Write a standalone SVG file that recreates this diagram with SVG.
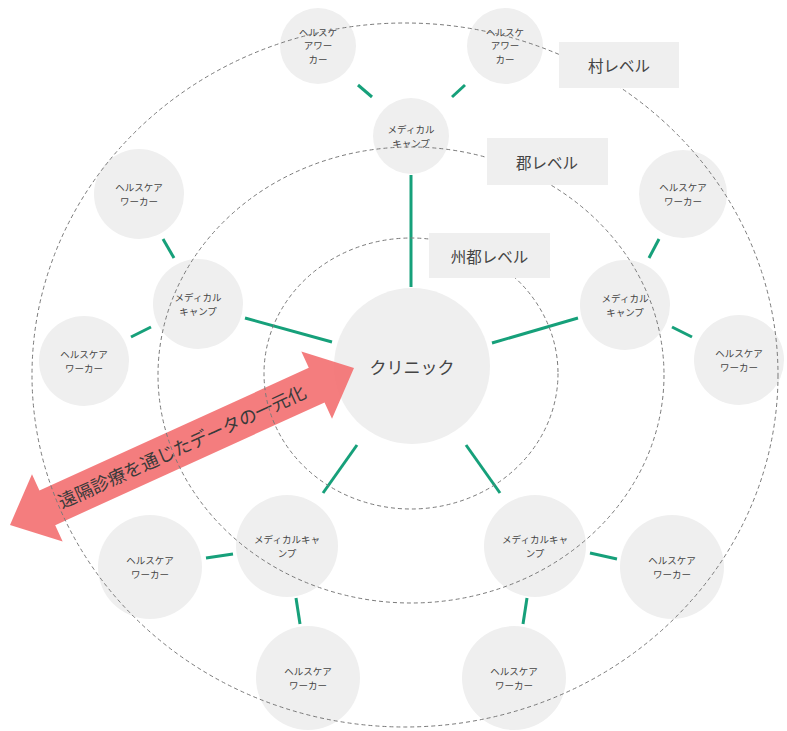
<svg xmlns="http://www.w3.org/2000/svg" width="787" height="731" viewBox="0 0 787 731">
<style>
.n{fill:#efefef}
.t{font-family:"Noto Sans CJK JP","Noto Sans",sans-serif;font-size:9.5px;fill:#444;text-anchor:middle;dominant-baseline:central}
.c{stroke:#16a07a;stroke-width:3;fill:none}
.e{fill:none;stroke:#7a7a7a;stroke-width:1;stroke-dasharray:4 3}
.lb{fill:#efefef}
.lt{font-family:"Noto Sans CJK JP","Noto Sans",sans-serif;font-size:15.5px;fill:#444;text-anchor:middle;dominant-baseline:central}
</style>
<rect width="787" height="731" fill="#fff"/>
<g id="connectors">
<line class="c" x1="411" y1="175" x2="411" y2="287"/>
<line class="c" x1="578" y1="318" x2="492" y2="343"/>
<line class="c" x1="245" y1="318" x2="332" y2="342"/>
<line class="c" x1="357" y1="445" x2="323" y2="493"/>
<line class="c" x1="466" y1="445" x2="500" y2="493"/>
<line class="c" x1="358" y1="85" x2="372" y2="97"/>
<line class="c" x1="452" y1="97" x2="465" y2="85"/>
<line class="c" x1="649" y1="258" x2="659" y2="239"/>
<line class="c" x1="672" y1="327" x2="692" y2="337"/>
<line class="c" x1="163" y1="239" x2="174" y2="258"/>
<line class="c" x1="131" y1="337" x2="151" y2="327"/>
<line class="c" x1="206" y1="558" x2="233" y2="554"/>
<line class="c" x1="590" y1="553" x2="617" y2="559"/>
<line class="c" x1="296" y1="598" x2="300" y2="624"/>
<line class="c" x1="527" y1="598" x2="523" y2="624"/>
</g>
<g id="clinic"><circle class="n" cx="412" cy="366" r="78"/><text class="t" x="412" y="366" style="font-size:17px">クリニック</text></g>
<g id="camp-top"><circle class="n" cx="411" cy="136" r="38"/><text class="t" x="411" y="129">メディカル<tspan x="411" dy="13.8">キャンプ</tspan></text></g>
<g id="camp-right"><circle class="n" cx="625" cy="305" r="45"/><text class="t" x="625" y="298">メディカル<tspan x="625" dy="13.8">キャンプ</tspan></text></g>
<g id="camp-left"><circle class="n" cx="198" cy="304" r="45"/><text class="t" x="198" y="297">メディカル<tspan x="198" dy="13.8">キャンプ</tspan></text></g>
<g id="camp-bl"><circle class="n" cx="287" cy="546" r="51"/><text class="t" x="287" y="539">メディカルキャ<tspan x="287" dy="13.8">ンプ</tspan></text></g>
<g id="camp-br"><circle class="n" cx="535" cy="546" r="51"/><text class="t" x="535" y="539">メディカルキャ<tspan x="535" dy="13.8">ンプ</tspan></text></g>
<g id="hw-top-left"><circle class="n" cx="318" cy="46" r="38"/><text class="t" x="318" y="31.5">ヘルスケ<tspan x="318" dy="13.8">アワー</tspan><tspan x="318" dy="13.8">カー</tspan></text></g>
<g id="hw-top-right"><circle class="n" cx="505" cy="46" r="38"/><text class="t" x="505" y="31.5">ヘルスケ<tspan x="505" dy="13.8">アワー</tspan><tspan x="505" dy="13.8">カー</tspan></text></g>
<g id="hw-right-top"><circle class="n" cx="683" cy="194" r="44"/><text class="t" x="683" y="187">ヘルスケア<tspan x="683" dy="13.8">ワーカー</tspan></text></g>
<g id="hw-right"><circle class="n" cx="739" cy="360" r="45"/><text class="t" x="739" y="353">ヘルスケア<tspan x="739" dy="13.8">ワーカー</tspan></text></g>
<g id="hw-left-top"><circle class="n" cx="139" cy="194" r="45"/><text class="t" x="139" y="187">ヘルスケア<tspan x="139" dy="13.8">ワーカー</tspan></text></g>
<g id="hw-left"><circle class="n" cx="84" cy="361" r="45"/><text class="t" x="84" y="354">ヘルスケア<tspan x="84" dy="13.8">ワーカー</tspan></text></g>
<g id="hw-bl1"><circle class="n" cx="150" cy="567" r="52"/><text class="t" x="150" y="560">ヘルスケア<tspan x="150" dy="13.8">ワーカー</tspan></text></g>
<g id="hw-br1"><circle class="n" cx="672" cy="567" r="52"/><text class="t" x="672" y="560">ヘルスケア<tspan x="672" dy="13.8">ワーカー</tspan></text></g>
<g id="hw-bl2"><circle class="n" cx="308" cy="678" r="52"/><text class="t" x="308" y="671">ヘルスケア<tspan x="308" dy="13.8">ワーカー</tspan></text></g>
<g id="hw-br2"><circle class="n" cx="514" cy="678" r="52"/><text class="t" x="514" y="671">ヘルスケア<tspan x="514" dy="13.8">ワーカー</tspan></text></g>
<g id="arrow" transform="translate(182 446.5) rotate(-24.5)">
<path d="M-189 0 L-148 -37 L-148 -19 L148 -19 L148 -37 L189 0 L148 37 L148 19 L-148 19 L-148 37 Z" fill="#f36f70" opacity="0.9"/>
<text x="0" y="-1" style="font-family:'Noto Sans CJK JP','Noto Sans',sans-serif;font-size:18px;fill:#3a3a3a;text-anchor:middle;dominant-baseline:central">遠隔診療を通じたデータの一元化</text>
</g>
<g id="rings">
<ellipse class="e" cx="405" cy="375" rx="373" ry="352"/>
<ellipse class="e" cx="411" cy="375" rx="253" ry="228"/>
<ellipse class="e" cx="411" cy="373.5" rx="147" ry="135.5"/>
</g>
<g id="label-village"><rect class="lb" x="559" y="42" width="120" height="46"/><text class="lt" x="619" y="65">村レベル</text></g>
<g id="label-district"><rect class="lb" x="487" y="138" width="121" height="47"/><text class="lt" x="547" y="161.5">郡レベル</text></g>
<g id="label-state"><rect class="lb" x="429" y="233" width="121" height="45"/><text class="lt" x="489.5" y="255.5">州都レベル</text></g>
</svg>
